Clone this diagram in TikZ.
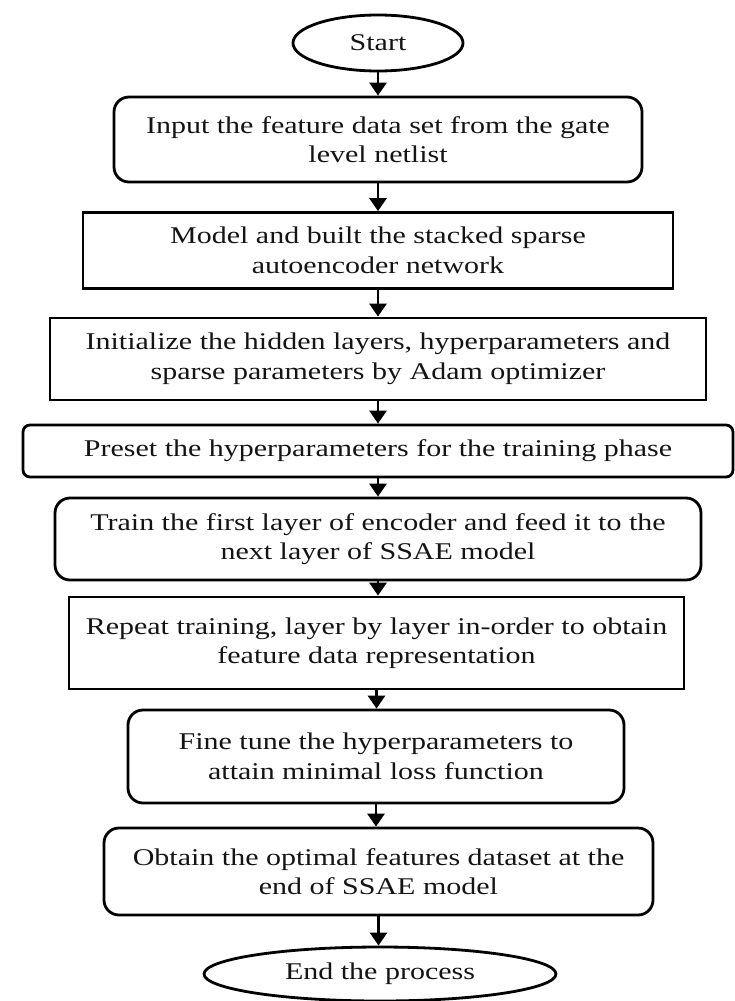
\documentclass[tikz,border=0pt]{standalone}
\usepackage{fontspec}
\setmainfont{Liberation Serif}[FakeStretch=1.25]
\usetikzlibrary{arrows.meta,shapes.geometric}
\definecolor{ink}{HTML}{141414}
\tikzset{
  stepbox/.style={draw=black, line width=2.8pt, align=center, inner sep=0pt,
    text=ink, font=\fontsize{24}{29.5}\selectfont},
  roundbox/.style={stepbox, rounded corners=15pt},
  terminal/.style={ellipse, draw=black, line width=2.8pt, inner sep=0pt,
    text=ink, font=\fontsize{24}{29.5}\selectfont},
  flow/.style={line width=2.8pt, -{Triangle[length=13pt,width=17pt]}}
}
\begin{document}
\begin{tikzpicture}[x=1pt,y=-1pt]
\useasboundingbox (0,0) rectangle (734,1001);

% terminals and process steps, top to bottom
\node[terminal, minimum width=170pt, minimum height=56pt] (start) at (378,43) {Start};
\node[roundbox, minimum width=528pt, minimum height=85pt] (s1) at (378,139.5)
  {Input the feature data set from the gate\\ level netlist};
\node[stepbox, minimum width=590pt, minimum height=76pt] (s2) at (378,250.5)
  {Model and built the stacked sparse\\ autoencoder network};
\node[stepbox, minimum width=656pt, minimum height=82pt] (s3) at (378,359)
  {Initialize the hidden layers, hyperparameters and\\ sparse parameters by Adam optimizer};
\node[stepbox, rounded corners=7pt, minimum width=710pt, minimum height=52pt] (s4) at (378,451)
  {Preset the hyperparameters for the training phase};
\node[roundbox, minimum width=646pt, minimum height=82pt] (s5) at (378,539)
  {Train the first layer of encoder and feed it to the\\ next layer of SSAE model};
\node[stepbox, minimum width=615pt, minimum height=92pt] (s6) at (376.5,643)
  {Repeat training, layer by layer in-order to obtain\\ feature data representation};
\node[roundbox, minimum width=496pt, minimum height=93pt] (s7) at (376,756.5)
  {Fine tune the hyperparameters to\\ attain minimal loss function};
\node[roundbox, minimum width=549pt, minimum height=87pt] (s8) at (378.5,871.5)
  {Obtain the optimal features dataset at the\\ end of SSAE model};
\node[terminal, minimum width=352pt, minimum height=54pt] (end) at (380,974) {End the process};

% connectors
\foreach \a/\b in {start/s1, s1/s2, s2/s3, s3/s4, s4/s5, s5/s6, s6/s7, s7/s8, s8/end}
  \draw[flow] (\a.south) -- (\a.south |- \b.north);
\end{tikzpicture}
\end{document}
